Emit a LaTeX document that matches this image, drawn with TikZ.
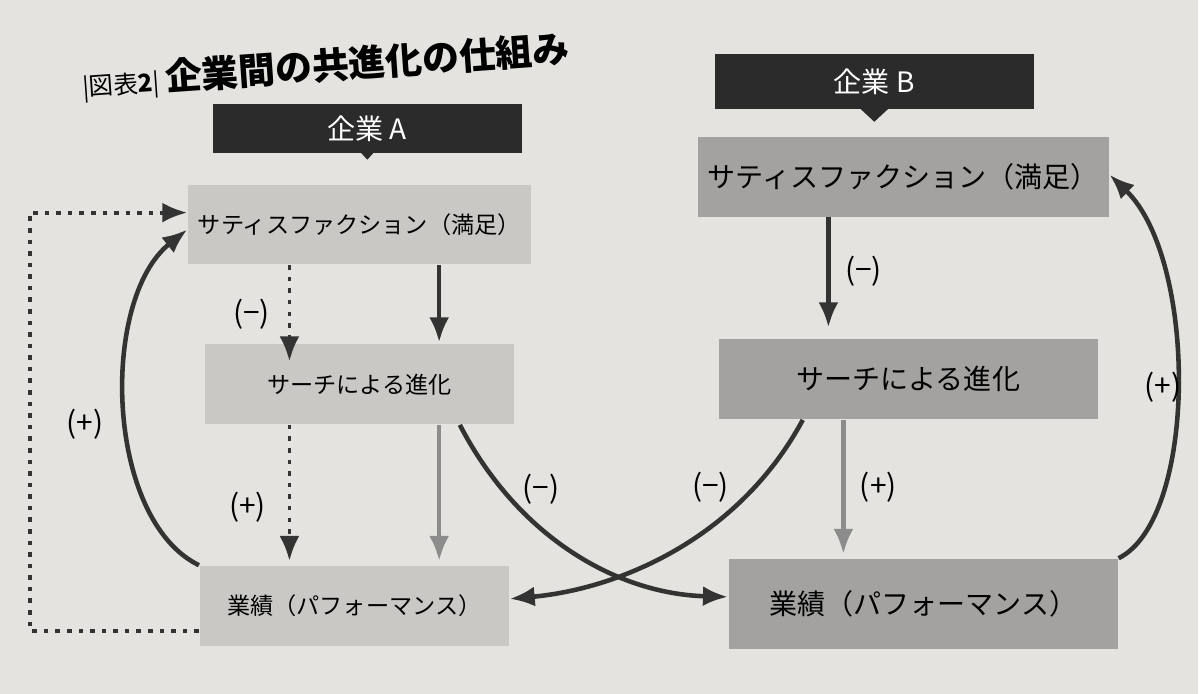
\documentclass[tikz,border=0pt]{standalone}
\usepackage{fontspec}
\setmainfont{Noto Sans CJK JP}
\usetikzlibrary{arrows.meta}
\definecolor{paper}{HTML}{E4E3E0}
\definecolor{lightbox}{HTML}{C9C8C5}
\definecolor{darkbox}{HTML}{A3A2A0}
\definecolor{headbg}{HTML}{2B2B2B}
\begin{document}
\begin{tikzpicture}[x=0.1mm,y=-0.1mm,
    boxA/.style={fill=lightbox,minimum width=31mm,minimum height=8mm,inner xsep=1mm,font=\fontsize{6.6}{7}\selectfont},
    boxB/.style={fill=darkbox,minimum width=37mm,minimum height=8mm,inner xsep=1mm,font=\fontsize{8}{8}\selectfont},
    head/.style={fill=headbg,text=white,minimum width=31mm,minimum height=4.2mm,font=\fontsize{8}{8}\selectfont},
    flow/.style={-{Latex[length=2.5mm,width=2mm]},line width=1.3pt,draw=black!80},
    dots/.style={flow,dotted,line width=1.1pt},
    lbl/.style={font=\fontsize{8.5}{9}\selectfont}]
  \fill[paper] (0,0) rectangle (1200,695);
  % title
  \node[anchor=west,rotate=4] (title) at (70,85)
    {{\fontsize{7}{7}\selectfont |図表\textbf{2}|}\,{\fontsize{10.5}{11}\selectfont\bfseries 企業間の共進化の仕組み}};
  % company A
  \node[head] (headA) at (368,129) {企業 A};
  \fill[headbg] (358,149) -- (378,149) -- (368,160) -- cycle;
  \node[boxA] (satA) at (360,225) {サティスファクション（満足）};
  \node[boxA] (srchA) at (360,385) {サーチによる進化};
  \node[boxA] (perfA) at (355,607) {業績（パフォーマンス）};
  % company B
  \node[head,minimum width=32mm,minimum height=5.5mm] (headB) at (876,82) {企業 B};
  \fill[headbg] (862,109) -- (890,109) -- (876,122) -- cycle;
  \node[boxB] (satB) at (905,177) {サティスファクション（満足）};
  \node[boxB,minimum width=38mm] (srchB) at (910,380) {サーチによる進化};
  \node[boxB,minimum width=39mm,minimum height=9mm] (perfB) at (925,605) {業績（パフォーマンス）};
  % arrows in A
  \draw[dots] (satA.south -| 290,0) -- (290,362);
  \node[lbl] (mA1) at (252,315) {(−)};
  \draw[flow] (satA.south -| 440,0) -- (440,343);
  \draw[dots] (srchA.south -| 290,0) -- (290,562);
  \node[lbl] (pA1) at (248,508) {(+)};
  \draw[flow,draw=black!45] (srchA.south -| 440,0) -- (440,562);
  \draw[flow] (perfA.north west) .. controls (105,520) and (100,300) .. (satA.west |- 0,230);
  \node[lbl] (pA2) at (85,425) {(+)};
  \draw[dots] (perfA.west |- 0,632) -- (30,632) -- (30,213) -- (satA.west |- 0,213);
  % arrows in B
  \draw[flow] (satB.south -| 830,0) -- (830,328);
  \node[lbl] (mB1) at (865,272) {(−)};
  \draw[flow,draw=black!45] (srchB.south -| 845,0) -- (845,555);
  \node[lbl] (pB1) at (880,488) {(+)};
  \draw[flow] (perfB.north east) .. controls (1200,520) and (1200,260) .. (satB.east |- 0,175);
  \node[lbl] (pB2) at (1165,388) {(+)};
  % crossing arrows
  \draw[flow] (srchA.south east) ++(-55,0) .. controls (520,540) and (620,595) .. (perfB.west |- 0,598);
  \node[lbl] (mX1) at (542,490) {(−)};
  \draw[flow] (srchB.south west) ++(85,0) .. controls (740,540) and (620,590) .. (perfA.east |- 0,600);
  \node[lbl] (mX2) at (712,488) {(−)};
\end{tikzpicture}
\end{document}
